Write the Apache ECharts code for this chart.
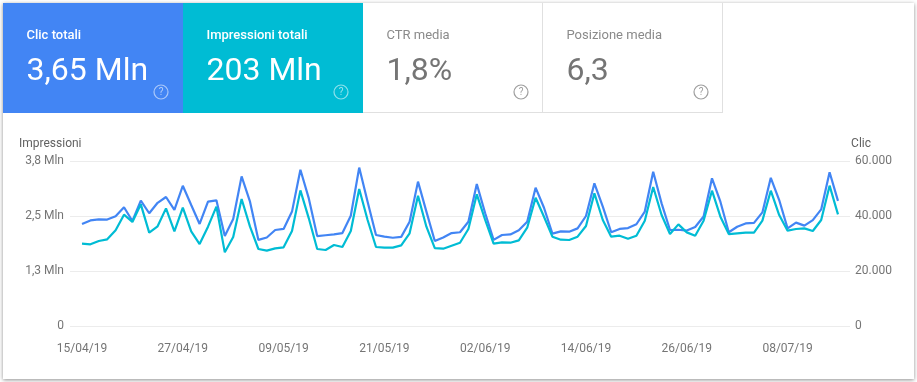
<!DOCTYPE html>
<html>
<head>
<meta charset="utf-8">
<style>
  html, body { margin: 0; padding: 0; background: #fff; }
  #main { width: 917px; height: 382px; }
</style>
<script src="https://cdn.jsdelivr.net/npm/echarts@6/dist/echarts.min.js"></script>
</head>
<body>
<div id="main"></div>
<script>
// clic giornalieri, dal 15/04/19
const clicks = [
  37100, 38400, 38800, 38700, 39900, 43200, 38200, 45600, 41000, 44800, 46900, 42200, 51000,
  44000, 37100, 45200, 45700, 32700, 38900, 54400, 45200, 31300, 32200, 34900, 35300, 41600,
  56800, 46400, 32700, 33000, 33300, 33800, 40100, 57600, 45200, 33100, 32500, 32100, 32400,
  37900, 52500, 41600, 30900, 32200, 33800, 34100, 37900, 51600, 41000, 31300, 33100, 33300,
  34800, 37900, 50300, 43000, 33600, 34400, 34300, 35500, 40000, 51900, 43400, 34100, 35300,
  35600, 37000, 41600, 56100, 44600, 34900, 35000, 34700, 36000, 39800, 53700, 45200, 34100,
  36100, 37300, 37500, 41300, 53900, 45800, 35500, 37600, 36500, 38500, 42400, 55900, 45500
];
// impressioni giornaliere, in milioni
const impressions = [
  1.871, 1.856, 1.931, 1.969, 2.174, 2.530, 2.363, 2.765, 2.121, 2.265, 2.674, 2.151, 2.689,
  2.151, 1.863, 2.257, 2.712, 1.674, 2.022, 2.886, 2.257, 1.750, 1.712, 1.765, 1.787, 2.159,
  3.083, 2.447, 1.750, 1.727, 1.840, 1.795, 2.159, 3.113, 2.409, 1.795, 1.780, 1.780, 1.833,
  2.106, 2.962, 2.257, 1.772, 1.757, 1.825, 1.893, 2.204, 2.992, 2.409, 1.871, 1.901, 1.893,
  1.946, 2.234, 2.916, 2.484, 2.030, 1.962, 1.954, 2.030, 2.272, 3.015, 2.409, 2.030, 2.053,
  1.984, 2.053, 2.394, 3.159, 2.522, 2.090, 2.310, 2.128, 2.053, 2.394, 3.075, 2.484, 2.090,
  2.106, 2.121, 2.121, 2.394, 3.075, 2.522, 2.166, 2.204, 2.219, 2.159, 2.409, 3.189, 2.537
];
const dateTicks = ["15/04/19", "27/04/19", "09/05/19", "21/05/19", "02/06/19", "14/06/19", "26/06/19", "08/07/19"];
const dateTickDays = [0, 12, 24, 36, 48, 60, 72, 84];
const impressionTicks = ["0", "1,3 Mln", "2,5 Mln", "3,8 Mln"];
const clickTicks = ["0", "20.000", "40.000", "60.000"];
const tiles = [
  { title: "Clic totali", value: "3,65 Mln", bg: "#4285f4" },
  { title: "Impressioni totali", value: "203 Mln", bg: "#00bcd4" },
  { title: "CTR media", value: "1,8%" },
  { title: "Posizione media", value: "6,3" }
];

const font = "Roboto";
const tileW = 180;
const tileH = 110;

// riquadri in alto
function tileGraphics(tile, i) {
  const x = 3 + i * tileW;
  const filled = !!tile.bg;
  const items = [
    { type: "rect", shape: { x: x, y: 3, width: tileW, height: tileH }, style: { fill: tile.bg || "#fff" } }
  ];
  if (!filled) {
    items.push({ type: "line", shape: { x1: x, y1: 112.5, x2: x + tileW, y2: 112.5 }, style: { stroke: "#e0e0e0", lineWidth: 1 } });
    items.push({ type: "line", shape: { x1: x + tileW - 0.5, y1: 3, x2: x + tileW - 0.5, y2: 113 }, style: { stroke: "#e0e0e0", lineWidth: 1 } });
  }
  items.push({
    type: "text", x: x + 23.5, y: 35.5,
    style: { text: tile.title, fill: filled ? "#fff" : "#8a8a8a", font: (filled ? "500 " : "") + "13px " + font, textVerticalAlign: "middle" }
  });
  items.push({
    type: "text", x: x + 23.5, y: 72,
    style: { text: tile.value, fill: filled ? "#fff" : "#757575", font: "32px " + font, textVerticalAlign: "middle" }
  });
  items.push({
    type: "circle", shape: { cx: x + 158, cy: 92, r: 7 },
    style: { fill: "none", stroke: filled ? "rgba(255,255,255,0.55)" : "#9e9e9e", lineWidth: 1.2 }
  });
  items.push({
    type: "text", x: x + 158, y: 92.5,
    style: { text: "?", fill: filled ? "rgba(255,255,255,0.6)" : "#9e9e9e", font: "10px " + font, textAlign: "center", textVerticalAlign: "middle" }
  });
  return items;
}

const graphics = [
  {
    type: "rect", z: -10,
    shape: { x: 3, y: 3, width: 911, height: 376 },
    style: { fill: "#fff", shadowColor: "rgba(0,0,0,0.45)", shadowBlur: 4, shadowOffsetY: 1 }
  }
];
tiles.forEach(function (t, i) {
  tileGraphics(t, i).forEach(function (g) { graphics.push(g); });
});
graphics.push({
  type: "text", x: 19, y: 144,
  style: { text: "Impressioni", fill: "#616161", font: "12px " + font, textVerticalAlign: "middle" }
});
graphics.push({
  type: "text", x: 871, y: 144,
  style: { text: "Clic", fill: "#616161", font: "12px " + font, textAlign: "right", textVerticalAlign: "middle" }
});

const labelStyle = { color: "#757575", fontSize: 12, fontFamily: font };

const option = {
  animation: false,
  graphic: { elements: graphics },
  grid: { left: 70, right: 67, top: 161, bottom: 56 },
  xAxis: {
    type: "value",
    min: -1.43,
    max: 91.43,
    splitLine: { show: false },
    axisLine: { show: false },
    axisTick: { show: false },
    axisLabel: Object.assign({}, labelStyle, {
      customValues: dateTickDays,
      margin: 17,
      formatter: function (v) { return dateTicks[dateTickDays.indexOf(v)]; }
    })
  },
  yAxis: [
    {
      type: "value",
      min: 0,
      max: 3.75,
      interval: 1.25,
      axisLine: { show: false },
      axisTick: { show: false },
      splitLine: { lineStyle: { color: "#ececec", width: 1 } },
      axisLabel: Object.assign({}, labelStyle, {
        margin: 6,
        padding: [4, 0, 0, 0],
        formatter: function (v, idx) { return impressionTicks[idx]; }
      })
    },
    {
      type: "value",
      position: "right",
      min: 0,
      max: 60000,
      interval: 20000,
      axisLine: { show: false },
      axisTick: { show: false },
      splitLine: { show: false },
      axisLabel: Object.assign({}, labelStyle, {
        margin: 5,
        padding: [4, 0, 0, 0],
        formatter: function (v, idx) { return clickTicks[idx]; }
      })
    }
  ],
  series: [
    {
      name: "Clic",
      type: "line",
      yAxisIndex: 1,
      symbol: "none",
      lineStyle: { color: "#4285f4", width: 2.2 },
      data: clicks.map(function (v, i) { return [i, v]; })
    },
    {
      name: "Impressioni",
      type: "line",
      yAxisIndex: 0,
      symbol: "none",
      lineStyle: { color: "#00bcd4", width: 2.2 },
      data: impressions.map(function (v, i) { return [i, v]; })
    }
  ]
};

const myChart = echarts.init(document.getElementById("main"));
myChart.setOption(option);
</script>
</body>
</html>
